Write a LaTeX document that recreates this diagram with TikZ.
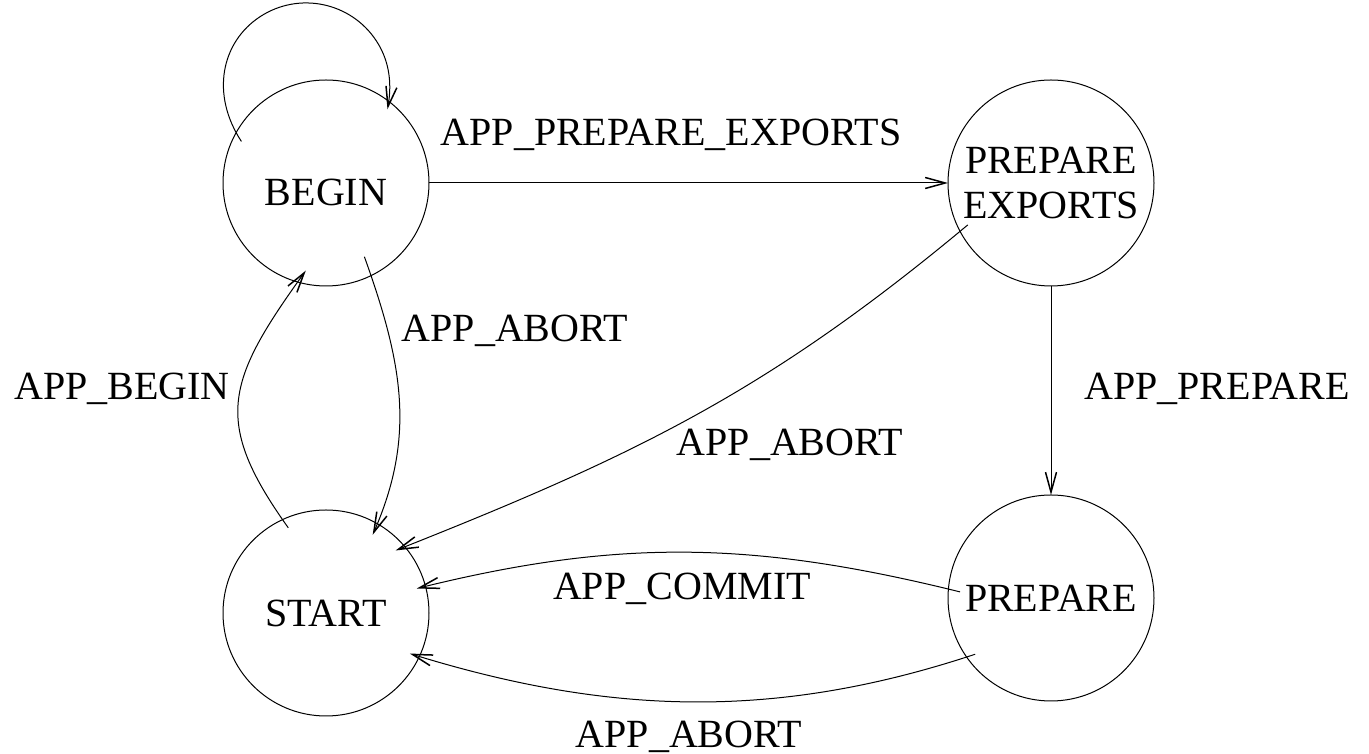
\documentclass[tikz,border=0pt]{standalone}
\usepackage{fontspec}
\setmainfont{Liberation Serif}
\usetikzlibrary{arrows.meta}
\begin{document}
\begin{tikzpicture}[x=1pt,y=1pt,
  every node/.style={font=\fontsize{40}{45}\selectfont},
  state/.style={circle,draw,line width=1pt,minimum size=206pt,inner sep=0pt,outer sep=0pt,align=center},
  edge/.style={draw,line width=1pt,-{Straight Barb[length=20pt,width=11pt,line width=1.5pt]}},
  lbl/.style={anchor=base,inner sep=0pt}]
\useasboundingbox (0,0) rectangle (1369,754);

% states
\node[state,label={[yshift=-9pt,inner sep=0pt]center:BEGIN}] (begin) at (326,571) {};
\node[state] (pe)    at (1051,571) {PREPARE\\EXPORTS};
\node[state] (start) at (326,141) {START};
\node[state] (prep)  at (1051,156) {PREPARE};

% transitions
\draw[edge,shorten <=-10pt,shorten >=-8pt] (begin.151) arc[start angle=213.3,end angle=-9.9,radius=84];
\draw[edge] (begin) -- (pe);
\draw[edge] (pe) -- (prep);
\draw[edge,shorten <=-20pt,shorten >=-12pt] (begin.-64) .. controls +(32,-89) and +(38,87) .. (start.60);
\draw[edge,shorten <=-10pt,shorten >=-14pt] (start.115) .. controls +(-70,98) and +(-72,-100) .. (begin.254);
\draw[edge,shorten <=-10pt,shorten >=-10pt] (pe.208) .. controls +(-192,-160) and +(232,92) .. (start.40);
\draw[edge,shorten <=-12pt,shorten >=-9pt] (prep.175) .. controls +(-194,48) and +(194,48) .. (start.15);
\draw[edge,shorten <=-9pt,shorten >=-10pt] (prep.215) .. controls +(-190,-63) and +(191,-59) .. (start.-25);

% transition labels
\node[lbl] (lpe)     at (671,608) {APP\_PREPARE\_EXPORTS};
\node[lbl] (labort1) at (515,412) {APP\_ABORT};
\node[lbl] (lbegin)  at (122,354) {APP\_BEGIN};
\node[lbl] (lprep)   at (1217,354) {APP\_PREPARE};
\node[lbl] (labort2) at (790,298) {APP\_ABORT};
\node[lbl] (lcommit) at (682,154) {APP\_COMMIT};
\node[lbl] (labort3) at (689,6) {APP\_ABORT};
\end{tikzpicture}
\end{document}
